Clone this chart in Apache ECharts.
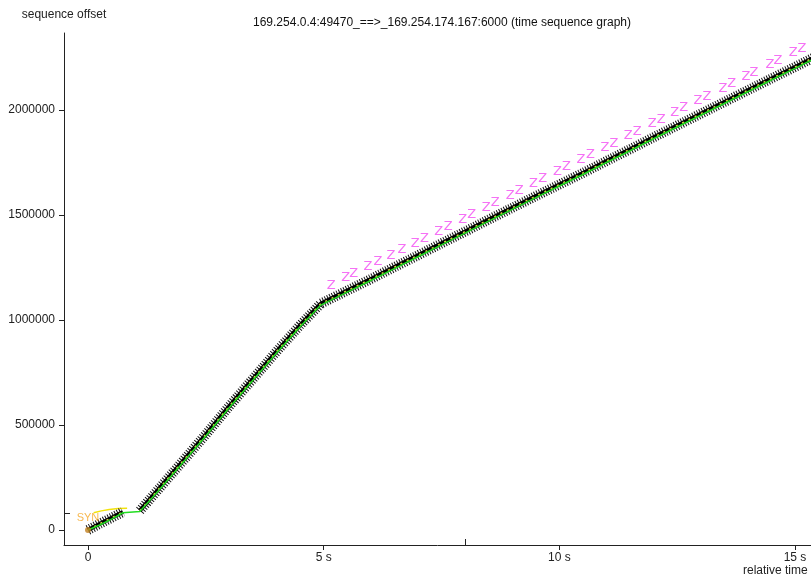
<!DOCTYPE html>
<html><head><meta charset="utf-8">
<script src="https://cdn.jsdelivr.net/npm/echarts@6/dist/echarts.min.js"></script>
<style>html,body{margin:0;padding:0;background:#fff}#c{width:811px;height:578px}</style>
</head><body><div id="c"></div>
<script>
// Data
const titleText = '169.254.0.4:49470_==>_169.254.174.167:6000 (time sequence graph)';
const xTickVals = [0, 5, 10, 15];
const yTickVals = [0, 500000, 1000000, 1500000, 2000000];
const markXTick = [8];
const markYTick = [81000];

// data segments (sequence numbers sent)
const seqTimeA = [0, 0.25, 0.5, 0.74];
const seqValA  = [0, 30000, 58000, 86000];
const seqTimeB = [1.1, 1.5, 2.0, 2.5, 3.0, 3.5, 4.0, 4.5, 4.94, 5.5, 6.0, 6.5, 7.0, 7.5, 8.0, 8.5, 9.0, 9.5, 10.0, 10.5, 11.0, 11.5, 12.0, 12.5, 13.0, 13.5, 14.0, 14.5, 15.0, 15.4];
const seqValB  = [92000, 195000, 325000, 455000, 590000, 720000, 850000, 975000, 1078000, 1140000, 1195000, 1252000, 1308000, 1365000, 1421000, 1478000, 1534000, 1590000, 1645000, 1700000, 1757000, 1813000, 1870000, 1926000, 1982000, 2038000, 2094000, 2150000, 2205000, 2250000];

// ack line (green)
const ackTime = [0, 0.25, 0.5, 0.74, 1.1, 1.5, 2.0, 2.5, 3.0, 3.5, 4.0, 4.5, 4.94, 5.5, 6.0, 6.5, 7.0, 7.5, 8.0, 8.5, 9.0, 9.5, 10.0, 10.5, 11.0, 11.5, 12.0, 12.5, 13.0, 13.5, 14.0, 14.5, 15.0, 15.4];
const ackVal  = [0, 24000, 52000, 82000, 88000, 188000, 318000, 448000, 583000, 713000, 843000, 968000, 1071000, 1133000, 1188000, 1245000, 1301000, 1358000, 1414000, 1471000, 1527000, 1583000, 1638000, 1693000, 1750000, 1806000, 1863000, 1919000, 1975000, 2031000, 2087000, 2143000, 2198000, 2243000];

// receive window line at start (yellow)
const winTime = [0.12, 0.45, 0.83];
const winVal  = [82000, 98000, 104000];

// zero-window / "Z" markers
const zTime = [5.16, 5.47, 5.64, 5.94, 6.15, 6.43, 6.66, 6.94, 7.14, 7.44, 7.64, 7.95, 8.14, 8.45, 8.64, 8.96, 9.15, 9.45, 9.65, 9.96, 10.15, 10.46, 10.66, 10.97, 11.16, 11.46, 11.65, 11.97, 12.16, 12.45, 12.64, 12.94, 13.13, 13.47, 13.66, 13.96, 14.13, 14.47, 14.64, 14.96, 15.15];
const zVal  = [1165000, 1200000, 1219000, 1253000, 1277000, 1308000, 1334000, 1366000, 1388000, 1422000, 1445000, 1480000, 1501000, 1536000, 1558000, 1594000, 1615000, 1649000, 1672000, 1707000, 1728000, 1763000, 1786000, 1821000, 1842000, 1876000, 1898000, 1934000, 1955000, 1988000, 2009000, 2043000, 2065000, 2103000, 2124000, 2158000, 2178000, 2216000, 2235000, 2271000, 2293000];

const synPoint = [[0, 0]];

const zip = (a, b) => a.map((t, i) => [t, b[i]]);
const seqData = zip(seqTimeA, seqValA).concat([[0.9, null]], zip(seqTimeB, seqValB));
const FONT = 'Liberation Sans';

const chart = echarts.init(document.getElementById('c'), null, {renderer: 'canvas'});
chart.setOption({
  animation: false,
  backgroundColor: '#fff',
  title: {text: titleText, left: 248, top: 12,
    textStyle: {fontFamily: FONT, fontSize: 12, fontWeight: 'normal', color: '#111'}},
  graphic: [{type: 'text', left: 743, top: 565,
    style: {text: 'relative time', font: '12px "Liberation Sans"', fill: '#222'}}],
  grid: {left: 64, right: 0, top: 33, bottom: 33, containLabel: false},
  xAxis: [{
    type: 'value', min: -0.509, max: 15.34, position: 'bottom',
    axisLine: {onZero: false, lineStyle: {color: '#222', width: 1}},
    axisTick: {customValues: xTickVals, length: 5, lineStyle: {color: '#222'}},
    axisLabel: {customValues: xTickVals, margin: 7, fontFamily: FONT, fontSize: 12, color: '#222',
      formatter: v => v === 0 ? '0' : v + ' s'},
    splitLine: {show: false}
  }, {
    type: 'value', min: -0.509, max: 15.34, position: 'bottom',
    axisLine: {show: false, onZero: false},
    axisTick: {customValues: markXTick, inside: true, length: 6, lineStyle: {color: '#222'}},
    axisLabel: {show: false}, splitLine: {show: false}
  }],
  yAxis: [{
    type: 'value', min: -71429, max: 2366667, position: 'left',
    name: 'sequence offset', nameLocation: 'end', nameGap: 12,
    nameTextStyle: {fontFamily: FONT, fontSize: 12, color: '#222'},
    axisLine: {show: true, onZero: false, lineStyle: {color: '#222', width: 1}},
    axisTick: {show: true, customValues: yTickVals, length: 5, lineStyle: {color: '#222'}},
    axisLabel: {customValues: yTickVals, margin: 9, fontFamily: FONT, fontSize: 12, color: '#222',
      formatter: v => String(v)},
    splitLine: {show: false}
  }, {
    type: 'value', min: -71429, max: 2366667, position: 'left',
    axisLine: {show: false, onZero: false},
    axisTick: {show: true, customValues: markYTick, inside: true, length: 6, lineStyle: {color: '#222'}},
    axisLabel: {show: false}, splitLine: {show: false}
  }],
  series: [
    {type: 'line', name: 'window', data: zip(winTime, winVal), symbol: 'none', smooth: true,
      lineStyle: {color: '#f2e20a', width: 1.5}, z: 2},
    {type: 'line', name: 'seq-fuzz', data: seqData, symbol: 'none', connectNulls: false,
      lineStyle: {color: '#111', width: 10, type: [1, 1.6]}, z: 3},
    {type: 'line', name: 'seq', data: seqData, symbol: 'none', connectNulls: false,
      lineStyle: {color: '#000', width: 4}, z: 4},
    {type: 'line', name: 'seq-yellow', data: seqData, symbol: 'none', connectNulls: false,
      lineStyle: {color: '#d8d040', width: 1.5, type: [2, 5]}, z: 5},
    {type: 'line', name: 'ack', data: zip(ackTime, ackVal), symbol: 'none',
      lineStyle: {color: '#22dd22', width: 1.5}, z: 6},
    {type: 'scatter', name: 'Z', data: zip(zTime, zVal), symbolSize: 1,
      itemStyle: {color: 'rgba(0,0,0,0)'}, z: 7,
      label: {show: true, position: 'inside', formatter: 'Z', color: '#f24df2',
        fontFamily: 'DejaVu Sans', fontSize: 13}},
    {type: 'scatter', name: 'SYN', data: synPoint, symbolSize: 6, z: 8,
      itemStyle: {color: '#c08020'},
      label: {show: true, position: 'top', distance: 4, formatter: 'SYN', color: '#f5a623',
        fontFamily: FONT, fontSize: 11}}
  ]
});
</script></body></html>
